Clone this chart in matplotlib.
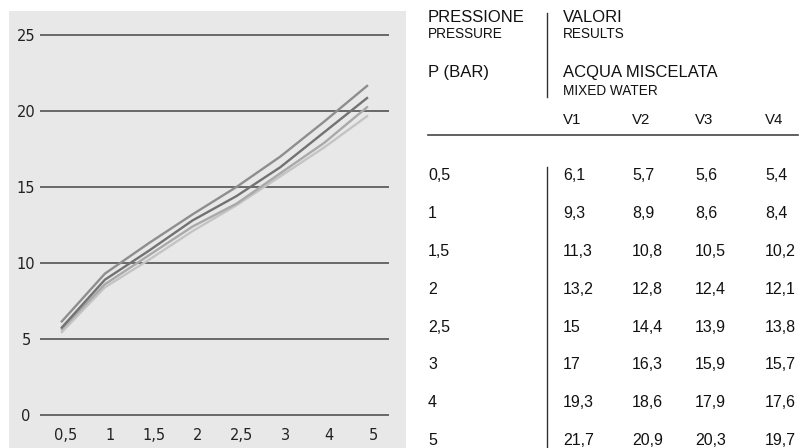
#!/usr/bin/env python3
# -*- coding: utf-8 -*-
"""
Portata / pressione - acqua miscelata
"""

#_________________________________________
# IMPORT PACKAGES
#_________________________________________
import numpy as np
import matplotlib
matplotlib.use("Agg")
import matplotlib.pyplot as plt
import matplotlib.transforms as mtrans
from matplotlib.patches import Rectangle
from matplotlib.lines import Line2D

#_________________________________________
# DATA
#_________________________________________
pressure = ["0,5", "1", "1,5", "2", "2,5", "3", "4", "5"]
v1 = [6.1, 9.3, 11.3, 13.2, 15, 17, 19.3, 21.7]
v2 = [5.7, 8.9, 10.8, 12.8, 14.4, 16.3, 18.6, 20.9]
v3 = [5.6, 8.6, 10.5, 12.4, 13.9, 15.9, 17.9, 20.3]
v4 = [5.4, 8.4, 10.2, 12.1, 13.8, 15.7, 17.6, 19.7]
series_names = ["V1", "V2", "V3", "V4"]
y_ticks = [0, 5, 10, 15, 20, 25]

#_________________________________________
# STYLE
#_________________________________________
W, H = 802, 448
line_colors = ["#8e8e8e", "#727272", "#a9a9a9", "#c4c4c4"]
grid_color = "#454545"
panel_color = "#e8e8e8"
text_color = "#111111"
table_font = "Liberation Sans"

def fx(px):  # pixel -> figure fraction
    return px / W

def fy(py):
    return 1 - py / H

def fmt(v):
    return ("%g" % v).replace(".", ",")

fig = plt.figure(figsize=(W / 100, H / 100), dpi=100)

# gray panel behind the chart
fig.patches.append(Rectangle((fx(9), 0), fx(406) - fx(9), fy(11), transform=fig.transFigure,
                             facecolor=panel_color, edgecolor="none", zorder=-5))

#_________________________________________
# CHART
#_________________________________________
ppu = (415 - 35) / 25.0  # pixel per unit
ax_top = 35 - 0.5 * ppu
ax_bot = 415 + 0.5 * ppu
ax = fig.add_axes([fx(40), fy(ax_bot), fx(389) - fx(40), (ax_bot - ax_top) / H])
ax.set_zorder(2)
ax.set_facecolor("none")
for s in ax.spines.values():
    s.set_visible(False)

x = np.arange(len(pressure))
for yv in y_ticks:
    ax.axhline(yv, color=grid_color, lw=1.1, zorder=1)
for vals, c in zip([v4, v3, v2, v1], line_colors[::-1]):
    ax.plot(x, vals, color=c, lw=1.7, zorder=2, solid_capstyle="butt")

ax.set_xlim(-0.48, 7.48)
ax.set_ylim(-0.5, 25.5)
ax.set_xticks(x)
ax.set_xticklabels(pressure)
ax.set_yticks(y_ticks)
ax.set_yticklabels([str(t) for t in y_ticks])
ax.tick_params(length=0, labelsize=10.5, labelcolor="#222222")
ax.tick_params(axis="x", pad=4)
ax.tick_params(axis="y", pad=10)
for lab in ax.get_yticklabels():
    lab.set_ha("center")
off = mtrans.ScaledTranslation(5 / 100, 0, fig.dpi_scale_trans)
for lab in ax.get_xticklabels():
    lab.set_transform(lab.get_transform() + off)

#_________________________________________
# TABLE
#_________________________________________
col_x = [563, 632, 695, 765]
row_y = [175, 214, 252, 289, 327, 364, 402, 440]

def txt(px, py, s, size):
    fig.text(fx(px), fy(py), s, fontsize=size, color=text_color, family=table_font,
             ha="left", va="center")

txt(428, 17.5, "PRESSIONE", 12)
txt(428, 34, "PRESSURE", 9.8)
txt(428, 72, "P (BAR)", 12)
txt(563, 17.5, "VALORI", 12)
txt(563, 34, "RESULTS", 9.8)
txt(563, 73, "ACQUA MISCELATA", 12)
txt(563, 91, "MIXED WATER", 9.8)
for cx, name in zip(col_x, series_names):
    txt(cx, 120, name, 10.8)

fig.add_artist(Line2D([fx(547), fx(547)], [fy(13), fy(97)], transform=fig.transFigure,
                      color="#333333", lw=1.0))
fig.add_artist(Line2D([fx(428), fx(798)], [fy(135), fy(135)], transform=fig.transFigure,
                      color=grid_color, lw=1.2))
fig.add_artist(Line2D([fx(547), fx(547)], [fy(167), fy(450)], transform=fig.transFigure,
                      color="#333333", lw=1.0))

for i, p in enumerate(pressure):
    txt(428, row_y[i], p, 11.5)
    for cx, vals in zip(col_x, [v1, v2, v3, v4]):
        txt(cx, row_y[i], fmt(vals[i]), 11.5)

plt.savefig("out.png", dpi=100)
